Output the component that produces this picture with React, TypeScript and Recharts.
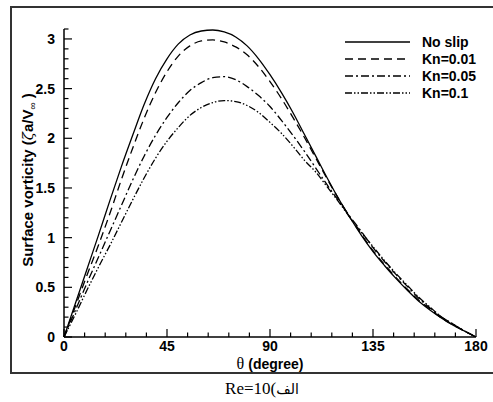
import React from "react";
import { LineChart, Line, XAxis, YAxis, Legend } from "recharts";

const theta = [0, 5, 10, 15, 20, 25, 30, 35, 40, 45, 50, 55, 60, 65, 70, 75, 80, 85, 90, 95, 100, 105, 110, 115, 120, 125, 130, 135, 140, 145, 150, 155, 160, 165, 170, 175, 180];
const noSlip = [0, 0.34, 0.68, 1.02, 1.37, 1.71, 2.03, 2.34, 2.6, 2.8, 2.95, 3.04, 3.08, 3.09, 3.07, 3.02, 2.93, 2.8, 2.64, 2.46, 2.26, 2.04, 1.82, 1.6, 1.39, 1.2, 1.02, 0.86, 0.72, 0.59, 0.47, 0.36, 0.27, 0.19, 0.12, 0.06, 0];
const kn001 = [0, 0.31, 0.62, 0.92, 1.24, 1.58, 1.9, 2.2, 2.46, 2.67, 2.83, 2.93, 2.98, 2.99, 2.97, 2.92, 2.84, 2.72, 2.57, 2.4, 2.21, 2.01, 1.8, 1.59, 1.39, 1.2, 1.03, 0.87, 0.73, 0.6, 0.48, 0.37, 0.28, 0.19, 0.12, 0.06, 0];
const kn005 = [0, 0.27, 0.54, 0.8, 1.06, 1.32, 1.58, 1.82, 2.03, 2.21, 2.36, 2.48, 2.56, 2.61, 2.62, 2.59, 2.52, 2.43, 2.32, 2.18, 2.03, 1.87, 1.7, 1.53, 1.37, 1.21, 1.06, 0.9, 0.76, 0.63, 0.51, 0.39, 0.29, 0.2, 0.13, 0.06, 0];
const kn01 = [0, 0.23, 0.47, 0.7, 0.92, 1.15, 1.38, 1.6, 1.8, 1.97, 2.11, 2.23, 2.31, 2.36, 2.38, 2.37, 2.33, 2.26, 2.16, 2.05, 1.92, 1.78, 1.66, 1.51, 1.36, 1.2, 1.05, 0.91, 0.77, 0.64, 0.52, 0.4, 0.3, 0.2, 0.13, 0.06, 0];

const seriesNames = ["No slip", "Kn=0.01", "Kn=0.05", "Kn=0.1"];
const seriesKeys = ["noSlip", "kn001", "kn005", "kn01"];
const seriesDash = ["", "8 5", "8 3 2 3", "7 2 1.5 2 1.5 2"];

const xMajorTicks = [0, 45, 90, 135, 180];
const xAllTicks = [0, 9, 18, 27, 36, 45, 54, 63, 72, 81, 90, 99, 108, 117, 126, 135, 144, 153, 162, 171, 180];
const yMajorTicks = [0, 0.5, 1, 1.5, 2, 2.5, 3];
const yAllTicks = [0, 0.1, 0.2, 0.3, 0.4, 0.5, 0.6, 0.7, 0.8, 0.9, 1, 1.1, 1.2, 1.3, 1.4, 1.5, 1.6, 1.7, 1.8, 1.9, 2, 2.1, 2.2, 2.3, 2.4, 2.5, 2.6, 2.7, 2.8, 2.9, 3, 3.1];

const data = theta.map((t, i) => ({
  theta: t,
  noSlip: noSlip[i],
  kn001: kn001[i],
  kn005: kn005[i],
  kn01: kn01[i],
}));

const FONT = "'Liberation Sans', Arial, Helvetica, sans-serif";

const isMajor = (list: number[], v: number) => list.some((m) => Math.abs(m - v) < 1e-6);

const AXIS_X = 64;
const AXIS_Y = 337;

const YTick = (props: any) => {
  const { y, payload } = props;
  const x = AXIS_X;
  const major = isMajor(yMajorTicks, payload.value);
  return (
    <g>
      <line x1={x} x2={x + (major ? 8 : 4.5)} y1={y} y2={y} stroke="#000" strokeWidth={1.2} />
      {major && (
        <text x={x - 9} y={y} dy="0.36em" textAnchor="end" fontFamily={FONT} style={{ fontWeight: 700 }} fontSize={14} fill="#000">
          {String(payload.value)}
        </text>
      )}
    </g>
  );
};

const XTick = (props: any) => {
  const { x, payload } = props;
  const y = AXIS_Y;
  const major = isMajor(xMajorTicks, payload.value);
  return (
    <g>
      <line x1={x} x2={x} y1={y} y2={y - (major ? 8 : 4.5)} stroke="#000" strokeWidth={1.2} />
      {major && (
        <text x={x} y={y + 14} textAnchor="middle" fontFamily={FONT} style={{ fontWeight: 700 }} fontSize={14} fill="#000">
          {String(payload.value)}
        </text>
      )}
    </g>
  );
};

const LegendContent = () => (
  <svg width={140} height={72}>
    {seriesNames.map((name, i) => (
      <g key={name}>
        <line x1={0} x2={65} y1={8 + i * 17} y2={8 + i * 17} stroke="#000" strokeWidth={1.3} strokeDasharray={seriesDash[i] || undefined} />
        <text x={77} y={8 + i * 17} dy="0.36em" fontFamily={FONT} style={{ fontWeight: 700 }} fontSize={14} fill="#000">
          {name}
        </text>
      </g>
    ))}
  </svg>
);

export default function App() {
  return (
    <div style={{ position: "fixed", left: 0, top: 0, width: 493, height: 402, background: "#fff" }}>
      <svg width={493} height={402} style={{ position: "absolute", left: 0, top: 0 }}>
        <rect x={11} y={7} width={492} height={366} fill="none" stroke="#333" strokeWidth={2} />
        <text transform="translate(33,180) rotate(-90)" textAnchor="middle" fontFamily={FONT} style={{ fontWeight: 700 }} fontSize={15} fill="#000">
          Surface vorticity (
          <tspan fontFamily="'DejaVu Serif', serif" style={{ fontWeight: 400, fontStyle: "italic" }}>ζ</tspan>
          a/V
          <tspan fontSize={10} dy={3} style={{ fontWeight: 400 }}>∞</tspan>
          <tspan dy={-3}> )</tspan>
        </text>
        <text x={270} y={369} textAnchor="middle" fill="#000">
          <tspan fontFamily="'Liberation Serif', serif" fontSize={16}>θ </tspan>
          <tspan fontFamily={FONT} style={{ fontWeight: 700 }} fontSize={14}>(degree)</tspan>
        </text>
        <text x={262} y={394} textAnchor="middle" fontFamily="'Liberation Serif', 'DejaVu Serif', serif" fontSize={17} fill="#000">
          Re=10(<tspan fontFamily="'DejaVu Sans', sans-serif" fontSize={14}>الف</tspan>
        </text>
      </svg>
      <div style={{ position: "absolute", left: 0, top: 0 }}>
        <LineChart width={493} height={402} data={data} margin={{ top: 29, right: 17, bottom: 55, left: 54 }}>
          <XAxis
            dataKey="theta"
            type="number"
            domain={[0, 180]}
            ticks={xAllTicks}
            interval={0}
            height={10}
            tickSize={0}
            tickMargin={0}
            tickLine={false}
            tick={<XTick />}
            axisLine={{ stroke: "#000", strokeWidth: 1.5 }}
          />
          <YAxis
            type="number"
            domain={[0, 3.1]}
            ticks={yAllTicks}
            interval={0}
            width={10}
            tickSize={0}
            tickMargin={0}
            tickLine={false}
            tick={<YTick />}
            axisLine={{ stroke: "#000", strokeWidth: 1.5 }}
            allowDataOverflow
          />
          <Legend
            layout="vertical"
            align="center"
            verticalAlign="middle"
            content={<LegendContent />}
            wrapperStyle={{ left: 345, top: 34, width: 140, height: 72 }}
          />
          {seriesKeys.map((k, i) => (
            <Line
              key={k}
              dataKey={k}
              name={seriesNames[i]}
              type="monotone"
              stroke="#000"
              strokeWidth={1.3}
              strokeDasharray={seriesDash[i] || undefined}
              dot={false}
              activeDot={false}
              isAnimationActive={false}
            />
          ))}
        </LineChart>
      </div>
    </div>
  );
}
